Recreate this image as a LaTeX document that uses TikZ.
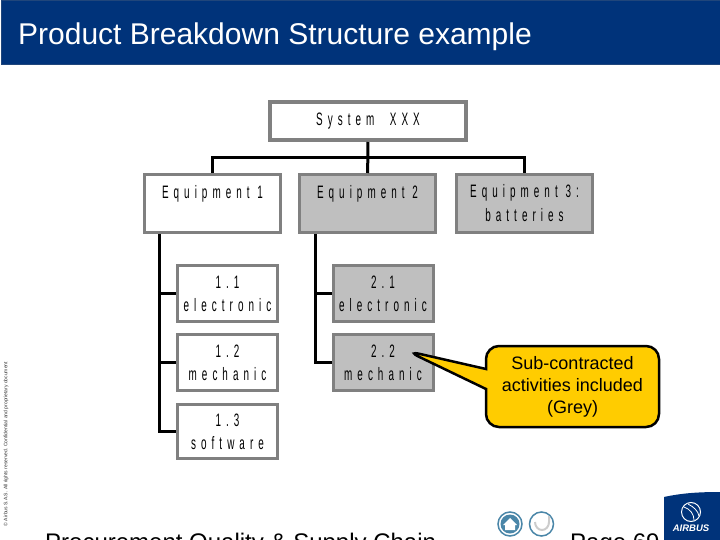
\documentclass[tikz,border=0pt]{standalone}
\usepackage{fontspec}
\usepackage{xcolor}
\usetikzlibrary{positioning,shapes.callouts}
\setmainfont{Liberation Sans}
\newfontfamily\boxfont[FakeStretch=0.55,LetterSpace=28]{Liberation Sans}
\definecolor{airbusblue}{HTML}{00337A}
\definecolor{boxgrey}{HTML}{BFBFBF}
\definecolor{boxline}{HTML}{808080}
\definecolor{notegold}{HTML}{FFCC00}
\definecolor{iconblue}{HTML}{4A86A8}
\tikzset{
  sysbox/.style={draw=boxline, line width=4pt, fill=white, align=center, inner sep=0pt,
    minimum width=196pt, minimum height=38pt, font=\boxfont\fontsize{18}{23}\selectfont},
  equipbox/.style={draw=boxline, line width=3pt, fill=white, align=center, inner sep=0pt,
    minimum width=136pt, minimum height=58pt, font=\boxfont\fontsize{18}{24}\selectfont},
  subbox/.style={draw=boxline, line width=3pt, fill=white, align=center, inner sep=0pt,
    minimum width=100pt, minimum height=56pt, font=\boxfont\fontsize{18}{23}\selectfont},
  wire/.style={draw=black, line width=3pt},
  note/.style={rectangle callout, draw=black, line width=2.5pt, fill=notegold, rounded corners=13pt,
    align=center, inner sep=0pt, minimum width=173pt, minimum height=81pt,
    callout pointer width=20pt, font=\fontsize{18}{22}\selectfont}
}
\begin{document}
\begin{tikzpicture}[x=1pt, y=-1pt, node distance=10pt and 16pt]
  \useasboundingbox (0,0) rectangle (720,540);
  \clip (0,0) rectangle (720,540);
  % header band
  \node[draw=airbusblue!75!gray, line width=1pt, fill=airbusblue, minimum width=719pt, minimum height=64pt, inner sep=0pt, anchor=north west] (band) at (0.5,0.5) {};
  \node[anchor=base west, inner sep=0pt, text=white, font=\fontsize{30}{32}\selectfont] (title) at (18,45) {Product Breakdown Structure example};
  % boxes
  \node[sysbox] (system) at (368,121) {System~~XXX};
  \node[equipbox, fill=boxgrey] (equipB) at (367.5,203.5) {Equipment 2\\\mbox{}};
  \node[equipbox, left=of equipB] (equipA) {Equipment 1\\\mbox{}};
  \node[equipbox, fill=boxgrey, right=18pt of equipB] (equipC) {Equipment 3:\\batteries};
  \node[subbox] (subAa) at (227.5,293.5) {1.1\\electronic};
  \node[subbox, below=of subAa] (subAb) {1.2\\mechanic};
  \node[subbox, below=11pt of subAb, minimum height=54pt] (subAc) {1.3\\software};
  \node[subbox, fill=boxgrey] (subBa) at (383,293.5) {2.1\\electronic};
  \node[subbox, fill=boxgrey, below=of subBa] (subBb) {2.2\\mechanic};
  % connectors
  \coordinate (bus) at (368,158);
  \coordinate (trunkA) at (159,234);
  \coordinate (trunkB) at (315,234);
  \draw[wire] (system) -- (equipB);
  \draw[wire] (equipA.north) |- (bus) -| (equipC.north);
  \draw[wire] (trunkA) |- (subAa.west);
  \draw[wire] (trunkA) |- (subAb.west);
  \draw[wire] (trunkA) |- (subAc.west);
  \draw[wire] (trunkB) |- (subBa.west);
  \draw[wire] (trunkB) |- (subBb.west);
  % note
  \node[note, callout absolute pointer={(407,351)}] (note) at (572.5,386.5) {Sub-contracted\\activities included\\(Grey)};
  % side text
  \node[rotate=90, inner sep=0pt, text=black!80, font=\fontsize{5}{5}\selectfont] (legal) at (6,444) {© Airbus S.A.S. All rights reserved. Confidential and proprietary document};
  % footer
  \node[anchor=base west, inner sep=0pt, font=\fontsize{24}{28}\selectfont] (footer) at (45,550) {Procurement Quality \& Supply Chain};
  \node[anchor=base west, inner sep=0pt, font=\fontsize{24}{28}\selectfont] (page) at (570,550) {Page 69};
  % icons
  \node[circle, draw=iconblue, line width=1.5pt, fill=white, minimum size=24pt, inner sep=0pt] (home) at (510,524) {};
  \fill[iconblue] (home) circle (9.5);
  \fill[white] (503,525) -- (510,518) -- (517,525) -- (515,525) -- (515,530) -- (505,530) -- (505,525) -- cycle;
  \node[circle, draw=iconblue, line width=1.5pt, fill=white, minimum size=24pt, inner sep=0pt] (back) at (541.5,524) {};
  \draw[line width=2pt, draw=black!20] (535,522) arc[start angle=180, end angle=360, x radius=7, y radius=-8] -- (549,516);
  % logo
  \fill[airbusblue] (664,497) .. controls (682,493) and (700,492) .. (720,492) -- (720,540) -- (664,540) -- cycle;
  \node[inner sep=0pt, text=white, font=\bfseries\itshape\fontsize{9.5}{10}\selectfont] (logo) at (691,528) {AIRBUS};
  \draw[white, line width=1pt] (691,512) circle (9.5);
  \draw[white, line width=0.8pt] (684,507) .. controls (690,509) and (694,514) .. (694,520);
  \draw[white, line width=0.8pt] (688,504) .. controls (694,507) and (698,511) .. (699,516);
\end{tikzpicture}
\end{document}
